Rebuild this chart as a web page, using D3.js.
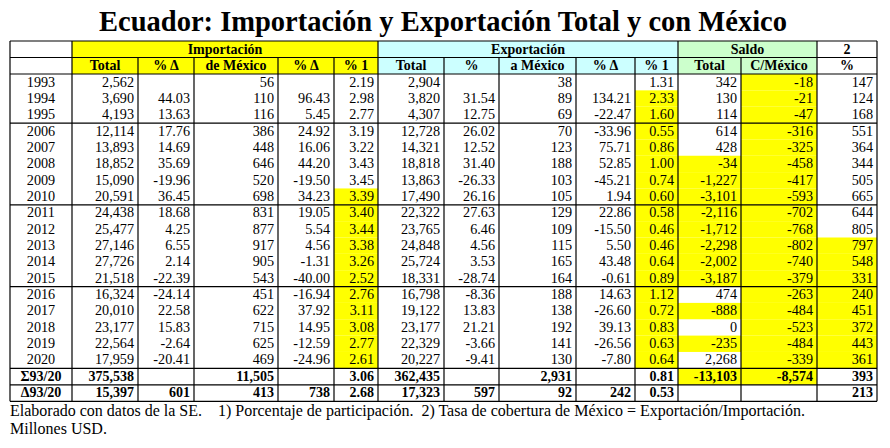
<!DOCTYPE html><html><head><meta charset="utf-8">
<script src="https://cdn.jsdelivr.net/npm/d3@7"></script>
<style>body{margin:0;background:#fff}</style></head><body>
<svg id="c" width="890" height="448"></svg>
<script>
const years=["1993","1994","1995","2006","2007","2008","2009","2010","2011","2012","2013","2014","2015","2016","2017","2018","2019","2020","Σ93/20","Δ93/20"];
const impTotal=["2,562","3,690","4,193","12,114","13,893","18,852","15,090","20,591","24,438","25,477","27,146","27,726","21,518","16,324","20,010","23,177","22,564","17,959","375,538","15,397"];
const impPct=["","44.03","13.63","17.76","14.69","35.69","-19.96","36.45","18.68","4.25","6.55","2.14","-22.39","-24.14","22.58","15.83","-2.64","-20.41","","601"];
const impMex=["56","110","116","386","448","646","520","698","831","877","917","905","543","451","622","715","625","469","11,505","413"];
const impMexPct=["","96.43","5.45","24.92","16.06","44.20","-19.50","34.23","19.05","5.54","4.56","-1.31","-40.00","-16.94","37.92","14.95","-12.59","-24.96","","738"];
const impShare=["2.19","2.98","2.77","3.19","3.22","3.43","3.45","3.39","3.40","3.44","3.38","3.26","2.52","2.76","3.11","3.08","2.77","2.61","3.06","2.68"];
const expTotal=["2,904","3,820","4,307","12,728","14,321","18,818","13,863","17,490","22,322","23,765","24,848","25,724","18,331","16,798","19,122","23,177","22,329","20,227","362,435","17,323"];
const expPct=["","31.54","12.75","26.02","12.52","31.40","-26.33","26.16","27.63","6.46","4.56","3.53","-28.74","-8.36","13.83","21.21","-3.66","-9.41","","597"];
const expMex=["38","89","69","70","123","188","103","105","129","109","115","165","164","188","138","192","141","130","2,931","92"];
const expMexPct=["","134.21","-22.47","-33.96","75.71","52.85","-45.21","1.94","22.86","-15.50","5.50","43.48","-0.61","14.63","-26.60","39.13","-26.56","-7.80","","242"];
const expShare=["1.31","2.33","1.60","0.55","0.86","1.00","0.74","0.60","0.58","0.46","0.46","0.64","0.89","1.12","0.72","0.83","0.63","0.64","0.81","0.53"];
const salTotal=["342","130","114","614","428","-34","-1,227","-3,101","-2,116","-1,712","-2,298","-2,002","-3,187","474","-888","0","-235","2,268","-13,103",""];
const salMex=["-18","-21","-47","-316","-325","-458","-417","-593","-702","-768","-802","-740","-379","-263","-484","-523","-484","-339","-8,574",""];
const cobert=["147","124","168","551","364","344","505","665","644","805","797","548","331","240","451","372","443","361","393","213"];
const groupHeaders=[["",0,1,"#fff"],["Importación",1,6,"#ffff00"],["Exportación",6,11,"#ccffff"],["Saldo",11,13,"#ccffcc"],["2",13,14,"#fff"]];
const subHeaders=["","Total","% Δ","de México","% Δ","% 1","Total","%","a México","% Δ","% 1","Total","C/México","%"];
const title="Ecuador: Importación y Exportación Total y con México";
const notes=["Elaborado con datos de la SE.\u00a0\u00a0\u00a0\u00a01) Porcentaje de participación.\u00a0\u00a02) Tasa de cobertura de México = Exportación/Importación.","Millones USD."];
const cols=[years,impTotal,impPct,impMex,impMexPct,impShare,expTotal,expPct,expMex,expMexPct,expShare,salTotal,salMex,cobert];
const hl={5:d3.range(7,18),10:d3.range(1,18),11:[5,6,7,8,9,10,11,12,14,16,18],12:d3.range(0,19),13:d3.range(10,18)};
const edges=[10,72,138,194,278,334,378,444,499,576,635,678,741,817,877];
const svg=d3.select("#c");
const font="'Liberation Serif','Times New Roman',serif";
svg.append("text").attr("x",443).attr("y",31).attr("text-anchor","middle").attr("font-family",font).attr("font-weight","bold").attr("font-size",28.5).text(title);
const y0=41,hh=16.5,rh=16.35;
const dataTop=y0+2*hh;
const rowY=i=>i<18?dataTop+i*rh:dataTop+18*rh+(i-18)*hh;
const bottom=rowY(20);
groupHeaders.forEach(([t,a,b,c])=>{
 svg.append("rect").attr("x",edges[a]).attr("y",y0).attr("width",edges[b]-edges[a]).attr("height",hh).attr("fill",c);
 svg.append("text").attr("x",(edges[a]+edges[b])/2).attr("y",y0+12.5).attr("text-anchor","middle").attr("font-family",font).attr("font-weight","bold").attr("font-size",14).text(t);
});
subHeaders.forEach((t,j)=>{
 const c=j==0||j==13?"#fff":j<6?"#ffff00":j<11?"#ccffff":"#ccffcc";
 svg.append("rect").attr("x",edges[j]).attr("y",y0+hh).attr("width",edges[j+1]-edges[j]).attr("height",hh).attr("fill",c);
 svg.append("text").attr("x",(edges[j]+edges[j+1])/2).attr("y",y0+hh+12.5).attr("text-anchor","middle").attr("font-family",font).attr("font-weight","bold").attr("font-size",14).text(t);
});
cols.forEach((col,j)=>{
 (hl[j]||[]).forEach(i=>svg.append("rect").attr("x",edges[j]).attr("y",rowY(i)).attr("width",edges[j+1]-edges[j]).attr("height",rowY(i+1)-rowY(i)).attr("fill","#ffff00"));
 col.forEach((v,i)=>{
  const bold=i>=18;
  const x=j==0?(edges[0]+edges[1])/2:edges[j+1]-4;
  svg.append("text").attr("x",x).attr("y",rowY(i)+12.5).attr("text-anchor",j==0?"middle":"end").attr("font-family",font).attr("font-size",bold?14:14.2).attr("font-weight",bold?"bold":"normal").text(v);
 });
});
const ln=(x1,y1,x2,y2,w)=>svg.append("line").attr("x1",x1).attr("y1",y1).attr("x2",x2).attr("y2",y2).attr("stroke","#000").attr("stroke-width",w||1.2);
[y0,y0+hh,dataTop,rowY(3),rowY(8),rowY(13),rowY(18),rowY(19),bottom].forEach(y=>ln(edges[0],y,edges[14],y));
edges.forEach((x,k)=>{
 const inner=[2,3,4,5,7,8,9,10,12].includes(k);
 ln(x,inner?y0+hh:y0,x,bottom);
});
notes.forEach((t,i)=>svg.append("text").attr("x",10).attr("y",bottom+15+i*18).attr("font-family",font).attr("font-size",16).text(t));
</script></body></html>
